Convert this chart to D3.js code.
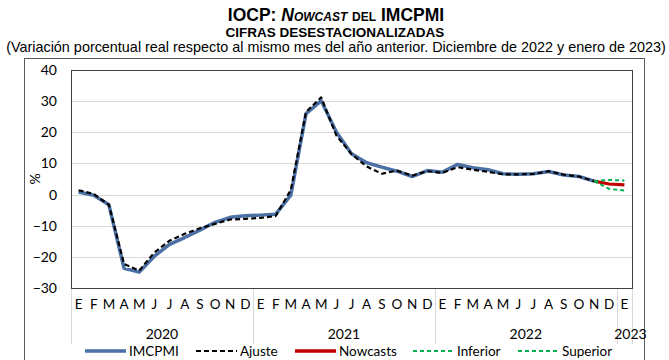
<!DOCTYPE html>
<html>
<head>
<meta charset="utf-8">
<script src="https://cdn.jsdelivr.net/npm/d3@7"></script>
<style>
  body { margin: 0; background: #fff; }
  svg { display: block; }
</style>
</head>
<body>
<svg id="chart"></svg>
<script>
const WIDTH = 669;
const HEIGHT = 360;

// categories
const monthLetters = ['E', 'F', 'M', 'A', 'M', 'J', 'J', 'A', 'S', 'O', 'N', 'D'];
const years = ['2020', '2021', '2022', '2023'];
const monthsPerYear = [12, 12, 12, 1];
const yTicks = [-30, -20, -10, 0, 10, 20, 30, 40];

// series, Jan 2020 .. Nov 2022
const imcpmi = [
    0.8, -0.2, -3.3, -23.7, -24.9, -19.8, -16.0, -13.8, -11.4, -8.9, -7.3, -6.8,
    -6.6, -6.3, -0.2, 26.0, 30.1, 20.1, 13.1, 10.2, 8.8, 7.5, 5.8, 7.7,
    7.2, 9.7, 8.6, 8.0, 6.7, 6.5, 6.7, 7.4, 6.3, 5.8, 4.3
];
const ajuste = [
    1.4, 0.2, -3.3, -22.3, -24.4, -18.6, -14.8, -12.6, -10.8, -9.4, -8.0, -7.8,
    -7.5, -6.9, 1.5, 26.5, 31.2, 19.0, 13.0, 9.0, 6.7, 7.7, 6.1, 7.5,
    7.0, 8.8, 8.0, 7.3, 6.5, 6.5, 6.6, 7.5, 6.4, 5.8, 4.3
];
// Nov 2022 .. Jan 2023
const nowcastStart = 34;
const nowcast = [4.3, 3.4, 3.1];
const inferior = [4.3, 1.8, 1.3];
const superior = [4.3, 4.7, 4.5];

const categories = [];
years.forEach((yr, i) => {
    for (let m = 0; m < monthsPerYear[i]; m++) {
        categories.push({ key: `${yr}-${m}`, label: monthLetters[m], year: yr });
    }
});

const svg = d3.select('#chart')
    .attr('width', WIDTH)
    .attr('height', HEIGHT);

// titles
const title = svg.append('text')
    .attr('x', 336)
    .attr('y', 21)
    .attr('text-anchor', 'middle')
    .style('font-family', 'Liberation Sans, Arial, sans-serif')
    .style('font-weight', 'bold')
    .style('font-size', '17.5px');
title.append('tspan').text('IOCP: ');
title.append('tspan').style('font-style', 'italic').style('font-variant', 'small-caps').text('Nowcast');
title.append('tspan').style('font-variant', 'small-caps').text(' del ');
title.append('tspan').text('IMCPMI');

svg.append('text')
    .attr('x', 335)
    .attr('y', 37)
    .attr('text-anchor', 'middle')
    .style('font-family', 'Liberation Sans, Arial, sans-serif')
    .style('font-weight', 'bold')
    .style('font-size', '13.5px')
    .text('CIFRAS DESESTACIONALIZADAS');

svg.append('text')
    .attr('x', 336)
    .attr('y', 52)
    .attr('text-anchor', 'middle')
    .style('font-family', 'Liberation Sans, Arial, sans-serif')
    .style('font-size', '14.4px')
    .text('(Variación porcentual real respecto al mismo mes del año anterior. Diciembre de 2022 y enero de 2023)');

// outer frame
svg.append('rect')
    .attr('x', 24.5)
    .attr('y', 58.5)
    .attr('width', 620)
    .attr('height', 320)
    .attr('fill', 'none')
    .attr('stroke', '#595959')
    .attr('stroke-width', 1);

const plot = { left: 71, right: 632, top: 70, bottom: 288 };

const x = d3.scaleBand()
    .domain(categories.map(d => d.key))
    .range([plot.left, plot.right]);

const y = d3.scaleLinear()
    .domain([-30, 40])
    .range([plot.bottom, plot.top]);

const cx = i => x(categories[i].key) + x.bandwidth() / 2;

// gridlines
svg.append('g')
    .selectAll('line')
    .data(yTicks)
    .join('line')
    .attr('x1', plot.left)
    .attr('x2', plot.right)
    .attr('y1', d => Math.round(y(d)) + 0.5)
    .attr('y2', d => Math.round(y(d)) + 0.5)
    .attr('stroke', '#D9D9D9')
    .attr('stroke-width', 1);

// y axis labels
const yAxis = svg.append('g')
    .attr('transform', `translate(${plot.left},0)`)
    .call(d3.axisLeft(y).tickValues(yTicks).tickSize(0).tickPadding(14).tickFormat(d3.format('d')));
yAxis.select('.domain').remove();
yAxis.selectAll('text')
    .style('font-family', 'Lato, Carlito, sans-serif')
    .style('font-size', '14px')
    .attr('fill', '#000');

svg.append('text')
    .attr('transform', 'translate(40,179) rotate(-90)')
    .attr('text-anchor', 'middle')
    .style('font-family', 'Lato, Carlito, sans-serif')
    .style('font-size', '14px')
    .text('%');

// x axis: month letters
const xAxis = svg.append('g')
    .attr('transform', `translate(0,${plot.bottom})`)
    .call(d3.axisBottom(x).tickSize(0).tickPadding(11).tickFormat((d, i) => categories[i].label));
xAxis.select('.domain').remove();
xAxis.selectAll('text')
    .style('font-family', 'Lato, Carlito, sans-serif')
    .style('font-size', '13.5px')
    .attr('fill', '#000');

// year groups
let start = 0;
const groups = years.map((yr, i) => {
    const g = { year: yr, first: start, last: start + monthsPerYear[i] - 1 };
    start += monthsPerYear[i];
    return g;
});

const sepX = [plot.left].concat(groups.map(g => x(categories[g.last].key) + x.bandwidth()));
svg.append('g')
    .selectAll('line')
    .data(sepX)
    .join('line')
    .attr('x1', d => Math.round(d) + 0.5)
    .attr('x2', d => Math.round(d) + 0.5)
    .attr('y1', plot.bottom)
    .attr('y2', 344)
    .attr('stroke', '#D9D9D9')
    .attr('stroke-width', 1);

svg.append('g')
    .selectAll('text')
    .data(groups)
    .join('text')
    .attr('x', g => g.first === g.last ? cx(g.first) + 6 : (x(categories[g.first].key) + x(categories[g.last].key) + x.bandwidth()) / 2)
    .attr('y', 339)
    .attr('text-anchor', 'middle')
    .style('font-family', 'Lato, Carlito, sans-serif')
    .style('font-size', '14px')
    .text(g => g.year);

// plot border
svg.append('rect')
    .attr('x', plot.left + 0.5)
    .attr('y', plot.top + 0.5)
    .attr('width', plot.right - plot.left)
    .attr('height', plot.bottom - plot.top)
    .attr('fill', 'none')
    .attr('stroke', '#404040')
    .attr('stroke-width', 1);

// series
const line = d3.line()
    .x(d => cx(d.i))
    .y(d => y(d.v));

const toPoints = (values, offset) => values.map((v, j) => ({ i: offset + j, v }));

const series = [
    { name: 'IMCPMI', values: toPoints(imcpmi, 0), color: '#4A70A6', width: 3.5, dash: null },
    { name: 'Ajuste', values: toPoints(ajuste, 0), color: '#000', width: 2.2, dash: '5,3' },
    { name: 'Nowcasts', values: toPoints(nowcast, nowcastStart), color: '#C00000', width: 3.2, dash: null },
    { name: 'Inferior', values: toPoints(inferior, nowcastStart), color: '#00B050', width: 2, dash: '4,3' },
    { name: 'Superior', values: toPoints(superior, nowcastStart), color: '#00B050', width: 2, dash: '4,3' }
];

svg.append('g')
    .selectAll('path')
    .data(series)
    .join('path')
    .attr('d', s => line(s.values))
    .attr('fill', 'none')
    .attr('stroke', s => s.color)
    .attr('stroke-width', s => s.width)
    .attr('stroke-dasharray', s => s.dash)
    .attr('stroke-linejoin', 'round');

// legend
const legendPos = [85, 196, 295, 413, 518];
const legend = svg.append('g')
    .selectAll('g')
    .data(series)
    .join('g')
    .attr('transform', (s, i) => `translate(${legendPos[i]},351)`);

legend.append('line')
    .attr('x1', 0)
    .attr('x2', 41)
    .attr('stroke', s => s.color)
    .attr('stroke-width', s => s.name === 'IMCPMI' || s.name === 'Nowcasts' ? 3.5 : 2)
    .attr('stroke-dasharray', s => s.dash);

legend.append('text')
    .attr('x', 44)
    .attr('y', 5)
    .style('font-family', 'Lato, Carlito, sans-serif')
    .style('font-size', '13.5px')
    .text(s => s.name);
</script>
</body>
</html>
